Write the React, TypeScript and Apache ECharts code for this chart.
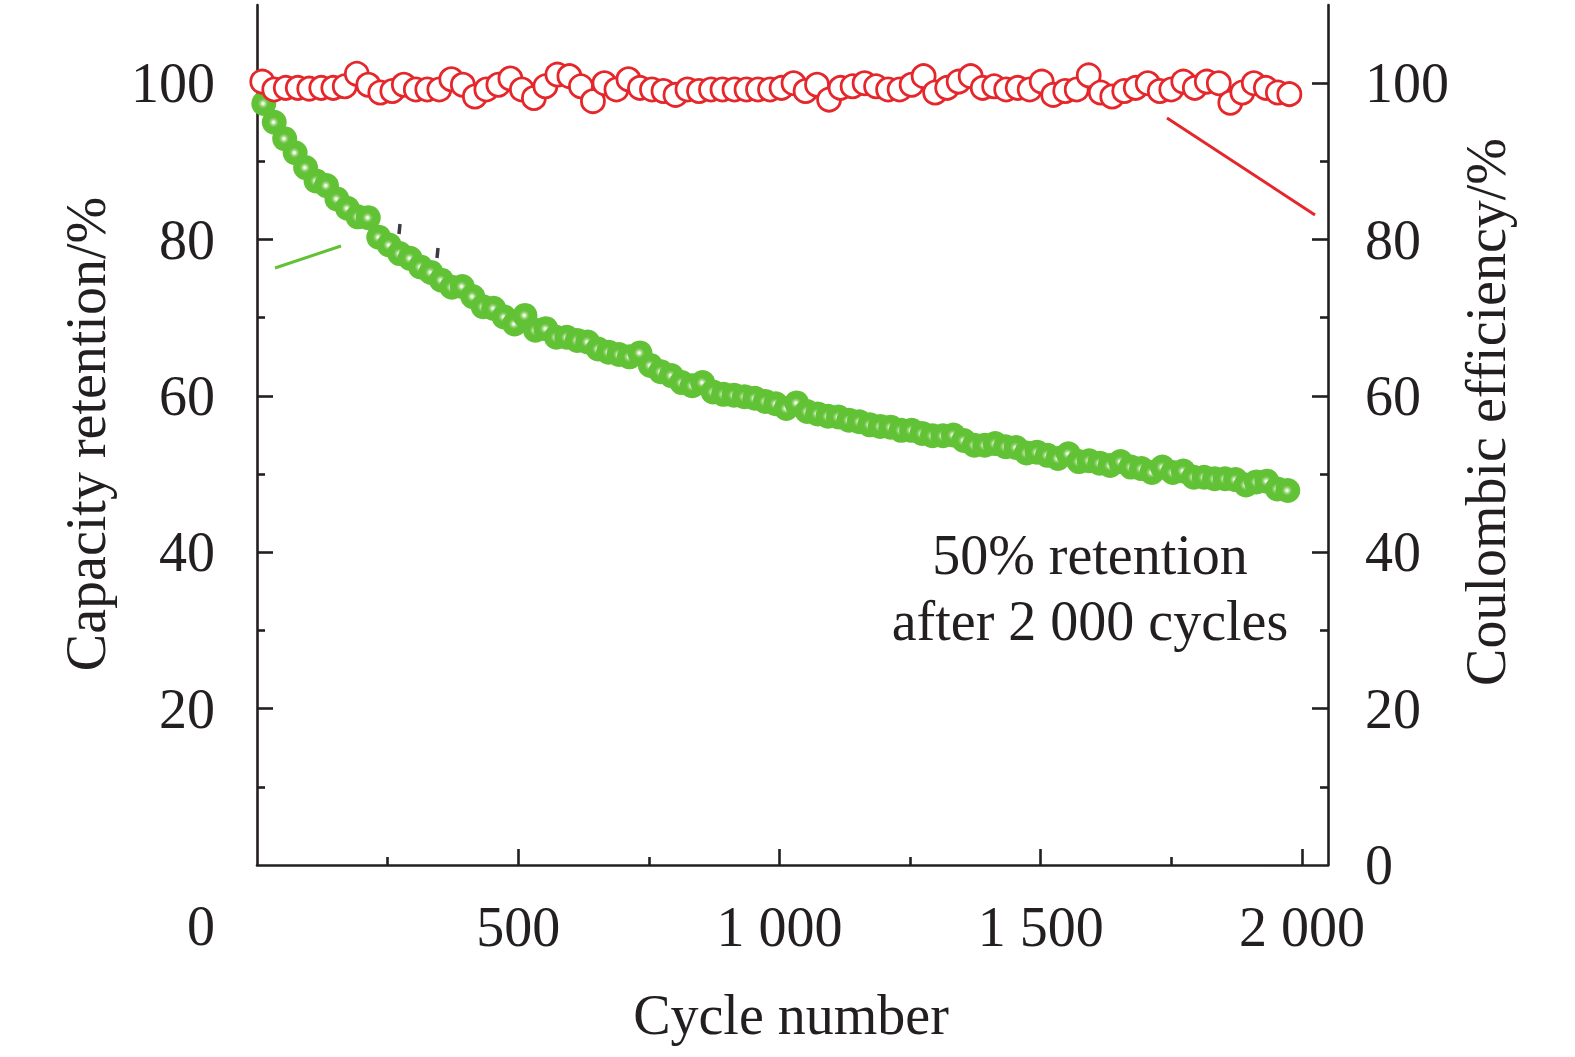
import React, { useEffect, useRef } from "react";
import * as echarts from "echarts";

// ---------- data ----------
const retentionCycles = [
  13, 33, 53, 73, 93, 113, 133, 153, 173, 193,
  213, 233, 253, 273, 293, 313, 333, 353, 373, 393,
  413, 433, 453, 473, 493, 513, 533, 553, 573, 593,
  613, 633, 653, 673, 693, 713, 733, 753, 773, 793,
  813, 833, 853, 873, 893, 913, 933, 953, 973, 993,
  1013, 1033, 1053, 1073, 1093, 1113, 1133, 1153, 1173, 1193,
  1213, 1233, 1253, 1273, 1293, 1313, 1333, 1353, 1373, 1393,
  1413, 1433, 1453, 1473, 1493, 1513, 1533, 1553, 1573, 1593,
  1613, 1633, 1653, 1673, 1693, 1713, 1733, 1753, 1773, 1793,
  1813, 1833, 1853, 1873, 1893, 1913, 1933, 1953, 1973,
];
const retentionValues = [
  97.4, 95.0, 92.9, 91.1, 89.2, 87.5, 86.9, 85.2, 84.0, 82.9,
  82.8, 80.3, 79.3, 78.2, 77.6, 76.5, 75.8, 74.8, 73.9, 74.0,
  72.7, 71.4, 71.2, 70.1, 69.2, 70.3, 68.4, 68.6, 67.5, 67.5,
  67.1, 66.9, 66.0, 65.6, 65.3, 65.0, 65.5, 63.9, 63.1, 62.6,
  61.7, 61.3, 61.7, 60.5, 60.2, 60.1, 59.9, 59.7, 59.3, 59.0,
  58.4, 59.1, 58.0, 57.7, 57.4, 57.3, 56.9, 56.7, 56.3, 56.1,
  56.0, 55.6, 55.6, 55.2, 54.9, 54.9, 55.0, 54.3, 53.7, 53.7,
  53.9, 53.5, 53.4, 52.7, 52.8, 52.4, 52.0, 52.6, 51.6, 51.7,
  51.4, 51.1, 51.6, 50.9, 50.7, 50.2, 50.9, 50.2, 50.4, 49.6,
  49.6, 49.4, 49.4, 49.3, 48.6, 49.0, 49.1, 48.1, 47.9,
];
const ceCycles = [
  10, 33, 55, 78, 100, 123, 146, 168, 191, 213,
  236, 259, 281, 304, 326, 349, 372, 394, 417, 439,
  462, 485, 507, 530, 552, 575, 598, 620, 643, 665,
  688, 711, 733, 756, 778, 801, 824, 846, 869, 891,
  914, 937, 959, 982, 1004, 1027, 1050, 1072, 1095, 1117,
  1140, 1163, 1185, 1208, 1230, 1253, 1276, 1298, 1321, 1343,
  1366, 1389, 1411, 1434, 1456, 1479, 1502, 1524, 1547, 1569,
  1592, 1615, 1637, 1660, 1682, 1705, 1728, 1750, 1773, 1795,
  1818, 1841, 1863, 1886, 1908, 1931, 1954, 1976,
];
const ceValues = [
  100.2, 99.2, 99.4, 99.4, 99.3, 99.4, 99.4, 99.6, 101.2, 99.8,
  98.8, 99.0, 99.8, 99.2, 99.2, 99.2, 100.5, 99.8, 98.3, 99.2,
  99.8, 100.6, 99.2, 98.1, 99.6, 101.1, 100.9, 99.6, 97.7, 100.0,
  99.2, 100.5, 99.4, 99.2, 99.0, 98.5, 99.2, 99.0, 99.2, 99.2,
  99.2, 99.2, 99.2, 99.2, 99.4, 100.0, 99.0, 99.8, 97.9, 99.4,
  99.6, 100.0, 99.6, 99.2, 99.2, 99.8, 100.9, 98.8, 99.4, 100.2,
  100.9, 99.4, 99.6, 99.2, 99.4, 99.2, 100.2, 98.5, 99.0, 99.2,
  101.0, 98.8, 98.3, 99.0, 99.4, 100.0, 99.0, 99.2, 100.2, 99.4,
  100.2, 100.0, 97.5, 98.8, 100.0, 99.4, 98.8, 98.6,
];
const xMajorTicks = [500, 1000, 1500, 2000];
const xMinorTicks = [250, 750, 1250, 1750];
const yLeftLabels = [20, 40, 60, 80, 100];
const yRightLabels = [0, 20, 40, 60, 80, 100];
const yMajorTicks = [20, 40, 60, 80, 100];
const yMinorTicks = [10, 30, 50, 70, 90];

const FONT = '"Liberation Serif", "Times New Roman", serif';
const INK = "#231f20";
const GREEN = "#62c236";
const RED = "#e5262b";
const FS = 56;

function fmtThousands(v: number): string {
  if (v >= 1000) {
    return `${Math.floor(v / 1000)} ${String(v % 1000).padStart(3, "0")}`;
  }
  return String(v);
}

function txt(text: string, x: number, y: number, rotation = 0, color = INK) {
  return {
    type: "text",
    x,
    y,
    rotation,
    silent: true,
    style: {
      text,
      fill: color,
      fontFamily: FONT,
      fontSize: FS,
      textAlign: "center",
      textVerticalAlign: "middle",
      align: "center",
      verticalAlign: "middle",
    },
  };
}

function seg(x1: number, y1: number, x2: number, y2: number, color: string, w: number) {
  return {
    type: "line",
    silent: true,
    shape: { x1, y1, x2, y2 },
    style: { stroke: color, lineWidth: w },
  };
}

export default function App() {
  const ref = useRef<HTMLDivElement>(null);

  useEffect(() => {
    if (!ref.current) return;
    const chart = echarts.init(ref.current, undefined, { renderer: "svg" });

    const lineStyle = { color: INK, width: 2.6 };
    const labelBase = { fontFamily: FONT, fontSize: FS, color: INK };

    const greenGradient = new echarts.graphic.RadialGradient(0.47, 0.5, 0.5, [
      { offset: 0, color: "#ffffff" },
      { offset: 0.1, color: "#e6f5dc" },
      { offset: 0.2, color: "#a6db88" },
      { offset: 0.32, color: "#79ca52" },
      { offset: 0.42, color: GREEN },
      { offset: 1, color: GREEN },
    ]);

    const option: any = {
      animation: false,
      grid: { left: 257, right: 247, top: 5, bottom: 192 },
      xAxis: [
        {
          type: "value",
          min: 0,
          max: 2050,
          position: "bottom",
          axisLine: { show: true, onZero: false, lineStyle },
          axisTick: { show: true, inside: true, length: 16, customValues: xMajorTicks, lineStyle },
          axisLabel: { ...labelBase, margin: 34, customValues: xMajorTicks, formatter: (v: number) => fmtThousands(v) },
          splitLine: { show: false },
        },
        {
          type: "value",
          min: 0,
          max: 2050,
          position: "bottom",
          axisLine: { show: false, onZero: false },
          axisTick: { show: true, inside: true, length: 8, customValues: xMinorTicks, lineStyle },
          axisLabel: { show: false },
          splitLine: { show: false },
        },
      ],
      yAxis: [
        {
          type: "value",
          min: 0,
          max: 110,
          position: "left",
          axisLine: { show: true, onZero: false, lineStyle },
          axisTick: { show: true, inside: true, length: 16, customValues: yMajorTicks, lineStyle },
          axisLabel: { ...labelBase, margin: 42, padding: [0, 0, 10, 0], customValues: yLeftLabels },
          splitLine: { show: false },
        },
        {
          type: "value",
          min: 0,
          max: 110,
          position: "left",
          axisLine: { show: false, onZero: false },
          axisTick: { show: true, inside: true, length: 8, customValues: yMinorTicks, lineStyle },
          axisLabel: { show: false },
          splitLine: { show: false },
        },
        {
          type: "value",
          min: 0,
          max: 110,
          position: "right",
          axisLine: { show: true, onZero: false, lineStyle },
          axisTick: { show: true, inside: true, length: 16, customValues: yMajorTicks, lineStyle },
          axisLabel: { ...labelBase, margin: 37, padding: [0, 0, 10, 0], customValues: yRightLabels },
          splitLine: { show: false },
        },
        {
          type: "value",
          min: 0,
          max: 110,
          position: "right",
          axisLine: { show: false, onZero: false },
          axisTick: { show: true, inside: true, length: 8, customValues: yMinorTicks, lineStyle },
          axisLabel: { show: false },
          splitLine: { show: false },
        },
      ],
      series: [
        {
          name: "Capacity retention",
          type: "scatter",
          xAxisIndex: 0,
          yAxisIndex: 0,
          symbol: "circle",
          symbolSize: 25,
          itemStyle: { color: greenGradient, opacity: 1 },
          data: retentionCycles.map((c, i) => [c, retentionValues[i]]),
          z: 2,
        },
        {
          name: "Coulombic efficiency",
          type: "scatter",
          xAxisIndex: 0,
          yAxisIndex: 2,
          symbol: "circle",
          symbolSize: 23,
          itemStyle: { color: "#ffffff", borderColor: RED, borderWidth: 2.8, opacity: 1 },
          data: ceCycles.map((c, i) => [c, ceValues[i]]),
          z: 3,
        },
      ],
      graphic: [
        txt("0", 201, 926),
        txt("Cycle number", 791, 1015),
        txt("Capacity retention/%", 86, 434, Math.PI / 2),
        txt("Coulombic efficiency/%", 1486, 412, Math.PI / 2),
        txt("50% retention", 1090, 555),
        txt("after 2 000 cycles", 1090, 621),
        seg(275, 268, 341, 246, GREEN, 3),
        seg(1167, 118, 1315, 215, RED, 3),
        seg(400, 224, 399, 234, "#3b3b48", 3.5),
        seg(438, 248, 437, 258, "#3b3b48", 3.5),
      ],
    };

    chart.setOption(option);
    return () => chart.dispose();
  }, []);

  return (
    <div
      ref={ref}
      style={{ position: "fixed", left: 0, top: 0, width: 1575, height: 1057, background: "#ffffff" }}
    />
  );
}
